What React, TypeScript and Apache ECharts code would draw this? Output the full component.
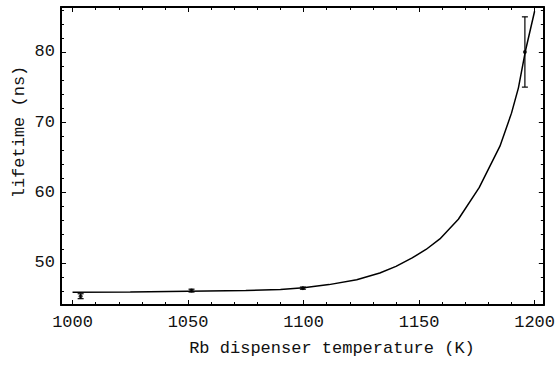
import React, { useEffect, useRef } from "react";
import * as echarts from "echarts";

// Fitted curve
const curveT = [1000, 1025, 1050, 1075, 1090, 1100, 1111, 1123, 1133, 1140, 1147, 1153, 1159, 1167, 1176, 1185, 1190, 1193, 1196, 1200];
const curveV = [45.8, 45.85, 45.95, 46.05, 46.2, 46.45, 46.9, 47.6, 48.55, 49.5, 50.7, 51.9, 53.4, 56.2, 60.7, 66.6, 71.3, 74.9, 80.1, 85.8];

// Measured points with error bars
const ptT = [1003.5, 1051.5, 1099.7, 1195.8];
const ptV = [45.25, 46.05, 46.4, 80.0];
const ptErr = [0.35, 0.2, 0.15, 5.0];

// Tick positions / labels
const xMajor = [1000, 1050, 1100, 1150, 1200];
const xMinor = [1000, 1010, 1020, 1030, 1040, 1050, 1060, 1070, 1080, 1090, 1100, 1110, 1120, 1130, 1140, 1150, 1160, 1170, 1180, 1190, 1200];
const yMajor = [50, 60, 70, 80];
const yMinor = [46, 48, 50, 52, 54, 56, 58, 60, 62, 64, 66, 68, 70, 72, 74, 76, 78, 80, 82, 84, 86];

const xTitle = "Rb dispenser temperature (K)";
const yTitle = "lifetime (ns)";

const FONT = "Liberation Mono";
const TXT = "#111";

export default function App() {
  const ref = useRef<HTMLDivElement>(null);
  useEffect(() => {
    if (!ref.current) return;
    const chart = echarts.init(ref.current, undefined, { renderer: "svg" });
    const X_MIN = 995, X_MAX = 1204, Y_MIN = 44, Y_MAX = 86.4;
    const line = { lineStyle: { color: "#000", width: 2 } };
    const fmt = (v: number) => String(v);
    const mkX = (pos: string, major: boolean, labels: boolean, showLine: boolean) => ({
      type: "value",
      position: pos,
      min: X_MIN,
      max: X_MAX,
      splitLine: { show: false },
      axisLine: { show: showLine, onZero: false, ...line },
      axisTick: {
        show: true,
        inside: true,
        length: major ? 5 : 3,
        customValues: major ? xMajor : xMinor,
        lineStyle: { color: "#000", width: 1 },
      },
      axisLabel: labels
        ? { show: true, customValues: xMajor, formatter: fmt, fontFamily: FONT, fontSize: 17, color: TXT, margin: 9 }
        : { show: false },
    });
    const mkY = (pos: string, major: boolean, labels: boolean, showLine: boolean) => ({
      type: "value",
      position: pos,
      min: Y_MIN,
      max: Y_MAX,
      splitLine: { show: false },
      axisLine: { show: showLine, onZero: false, ...line },
      axisTick: {
        show: true,
        inside: true,
        length: major ? 5 : 3,
        customValues: major ? yMajor : yMinor,
        lineStyle: { color: "#000", width: 1 },
      },
      axisLabel: labels
        ? { show: true, customValues: yMajor, formatter: fmt, fontFamily: FONT, fontSize: 17, color: TXT, margin: 6 }
        : { show: false },
    });

    const curve = curveT.map((t, i) => [t, curveV[i]]);
    const pts = ptT.map((t, i) => [t, ptV[i]]);
    const errs = ptT.map((t, i) => [t, ptV[i] - ptErr[i], ptV[i] + ptErr[i]]);

    chart.setOption({
      animation: false,
      backgroundColor: "#fff",
      textStyle: { fontFamily: FONT },
      grid: { left: 61, right: 13, top: 7, bottom: 63, containLabel: false },
      xAxis: [
        mkX("bottom", true, true, true),
        mkX("bottom", false, false, false),
        mkX("top", true, false, true),
        mkX("top", false, false, false),
      ],
      yAxis: [
        mkY("left", true, true, true),
        mkY("left", false, false, false),
        mkY("right", true, false, true),
        mkY("right", false, false, false),
      ],
      graphic: [
        {
          type: "text",
          x: 332,
          y: 348,
          style: { text: xTitle, fontFamily: FONT, fontSize: 17, fill: TXT, textAlign: "center", textVerticalAlign: "middle" },
        },
        {
          type: "text",
          x: 19,
          y: 132,
          rotation: Math.PI / 2,
          style: { text: yTitle, fontFamily: FONT, fontSize: 17, fill: TXT, textAlign: "center", textVerticalAlign: "middle" },
        },
      ],
      series: [
        {
          type: "line",
          data: curve,
          showSymbol: false,
          smooth: false,
          lineStyle: { color: "#000", width: 1.5 },
          clip: true,
        },
        {
          type: "custom",
          data: errs,
          renderItem: (params: any, api: any) => {
            const x = api.value(0);
            const lo = api.coord([x, api.value(1)]);
            const hi = api.coord([x, api.value(2)]);
            const w = 3;
            const st = { stroke: "#000", lineWidth: 1.2 };
            return {
              type: "group",
              children: [
                { type: "line", shape: { x1: lo[0], y1: lo[1], x2: hi[0], y2: hi[1] }, style: st },
                { type: "line", shape: { x1: lo[0] - w, y1: lo[1], x2: lo[0] + w, y2: lo[1] }, style: st },
                { type: "line", shape: { x1: hi[0] - w, y1: hi[1], x2: hi[0] + w, y2: hi[1] }, style: st },
              ],
            };
          },
        },
        {
          type: "scatter",
          data: pts,
          symbol: "circle",
          symbolSize: 4,
          itemStyle: { color: "#000" },
        },
      ],
    });
    return () => chart.dispose();
  }, []);
  return <div ref={ref} style={{ width: 558, height: 368, position: "absolute", left: 0, top: 0 }} />;
}
